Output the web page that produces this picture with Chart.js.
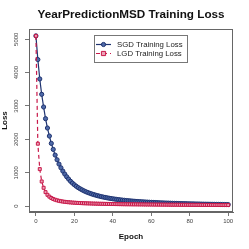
<!DOCTYPE html>
<html>
<head>
<meta charset="utf-8">
<script src="https://cdn.jsdelivr.net/npm/chart.js@4.4.0/dist/chart.umd.min.js"></script>
<style>
  html, body { margin: 0; padding: 0; background: #fff; }
  #wrap { width: 249px; height: 249px; }
</style>
</head>
<body>
<div id="wrap"><canvas id="lossChart" width="249" height="249"></canvas></div>
<script>
// Epochs 0..100
const epochs = Array.from({ length: 101 }, (_, i) => i);

// Training loss
const sgdLoss = [
    5100, 4390, 3810, 3350, 2970, 2620, 2340, 2100, 1880, 1700,
    1530, 1390, 1260, 1150, 1050, 960, 880, 810, 745, 690,
    640, 595, 555, 520, 488, 458, 432, 408, 386, 366,
    348, 331, 315, 300, 286, 273, 261, 250, 239, 229,
    220, 211, 203, 195, 188, 181, 175, 169, 163, 158,
    153, 148, 143, 139, 135, 131, 127, 123, 120, 117,
    114, 111, 108, 105, 102, 99, 97, 94, 92, 90,
    88, 86, 84, 82, 80, 78, 76, 74, 73, 71,
    70, 68, 67, 65, 64, 63, 61, 60, 59, 58,
    57, 56, 55, 54, 53, 52, 51, 50, 49, 48,
    47
];
const lgdLoss = [
    5100, 1870, 1110, 740, 550, 420, 340, 285, 245, 215,
    192, 175, 160, 148, 138, 130, 123, 117, 112, 107,
    103, 99, 96, 93, 90, 87, 85, 83, 81, 79,
    77, 75, 74, 72, 71, 70, 68, 67, 66, 65,
    64, 63, 62, 61, 60, 59, 58, 57, 57, 56,
    55, 54, 54, 53, 52, 52, 51, 50, 50, 49,
    49, 48, 47, 47, 46, 46, 45, 45, 44, 44,
    43, 43, 42, 42, 42, 41, 41, 40, 40, 40,
    39, 39, 39, 38, 38, 38, 37, 37, 37, 36,
    36, 36, 36, 35, 35, 35, 35, 34, 34, 34,
    34
];

const seriesLabels = ['SGD Training Loss', 'LGD Training Loss'];
const xTicks = [0, 20, 40, 60, 80, 100];
const yTicks = [0, 1000, 2000, 3000, 4000, 5000];

Chart.defaults.font.family = "'Liberation Sans', Arial, sans-serif";
Chart.defaults.color = '#444';

// R-style box around the plot region
const plotBox = {
    id: 'plotBox',
    afterDatasetsDraw(chart) {
        const { ctx, chartArea: a } = chart;
        ctx.save();
        ctx.strokeStyle = '#666';
        ctx.lineWidth = 1;
        ctx.strokeRect(Math.round(a.left) + 0.5, Math.round(a.top) + 0.5,
            Math.round(a.right - a.left) - 1, Math.round(a.bottom - a.top) - 1);
        ctx.restore();
    }
};

// Boxed legend inside the plot, like base R legend()
const boxLegend = {
    id: 'boxLegend',
    afterDraw(chart) {
        const ctx = chart.ctx;
        const x0 = 94, y0 = 35, w = 93, h = 27;
        ctx.save();
        ctx.fillStyle = '#fff';
        ctx.fillRect(x0, y0, w, h);
        ctx.strokeStyle = '#777';
        ctx.lineWidth = 1;
        ctx.strokeRect(x0 + 0.5, y0 + 0.5, w, h);
        ctx.font = "7.8px 'Liberation Sans', Arial, sans-serif";
        ctx.textBaseline = 'middle';
        chart.data.datasets.forEach((ds, i) => {
            const y = y0 + 9.5 + i * 9;
            ctx.strokeStyle = ds.borderColor;
            ctx.lineWidth = ds.borderWidth;
            ctx.setLineDash(ds.borderDash || []);
            ctx.beginPath();
            ctx.moveTo(x0 + 2, y);
            ctx.lineTo(x0 + 17, y);
            ctx.stroke();
            ctx.setLineDash([]);
            ctx.fillStyle = ds.pointBackgroundColor;
            ctx.strokeStyle = ds.pointBorderColor;
            ctx.lineWidth = 1;
            const cx = x0 + 9.5, r = ds.pointRadius;
            ctx.beginPath();
            if (ds.pointStyle === 'rect') {
                ctx.rect(cx - r, y - r, 2 * r, 2 * r);
            } else {
                ctx.arc(cx, y, r, 0, Math.PI * 2);
            }
            ctx.fill();
            ctx.stroke();
            ctx.fillStyle = '#222';
            ctx.fillText(ds.label, x0 + 23, y);
        });
        ctx.restore();
    }
};

const ctx = document.getElementById('lossChart').getContext('2d');
new Chart(ctx, {
    type: 'line',
    data: {
        datasets: [
            {
                label: seriesLabels[0],
                data: epochs.map((e, i) => ({ x: e, y: sgdLoss[i] })),
                borderColor: '#1f3370',
                borderWidth: 1.2,
                pointStyle: 'circle',
                pointRadius: 2.1,
                pointBackgroundColor: '#4f6aa8',
                pointBorderColor: '#1f3370',
                pointBorderWidth: 1,
                tension: 0,
                order: 2
            },
            {
                label: seriesLabels[1],
                data: epochs.map((e, i) => ({ x: e, y: lgdLoss[i] })),
                borderColor: '#c8194a',
                borderWidth: 1.2,
                borderDash: [4, 3],
                pointStyle: 'rect',
                pointRadius: 2.1,
                pointBackgroundColor: '#eba3b7',
                pointBorderColor: '#c8194a',
                pointBorderWidth: 1,
                tension: 0,
                order: 1
            }
        ]
    },
    options: {
        responsive: false,
        animation: false,
        devicePixelRatio: 1,
        layout: { padding: { left: 0, top: 0, right: 16, bottom: 0 } },
        plugins: {
            legend: { display: false },
            tooltip: { enabled: false },
            title: {
                display: true,
                fullSize: false,
                text: 'YearPredictionMSD Training Loss',
                color: '#111',
                font: { size: 11.7, weight: 'bold' },
                padding: { top: 8, bottom: 7 }
            }
        },
        scales: {
            x: {
                type: 'linear',
                min: -3.6,
                max: 102.5,
                afterBuildTicks: (scale) => { scale.ticks = xTicks.map(v => ({ value: v })); },
                afterFit: (scale) => { scale.height = 37; },
                grid: { display: true, drawOnChartArea: false, drawTicks: true, tickLength: 4, color: '#777' },
                border: { display: true, color: '#666' },
                ticks: {
                    font: { size: 6 }, padding: 2, color: '#444', maxRotation: 0,
                    callback: (v) => String(v)
                },
                title: {
                    display: true,
                    text: 'Epoch',
                    color: '#111',
                    font: { size: 8, weight: 'bold' },
                    padding: { top: 0, bottom: 7.5 }
                }
            },
            y: {
                min: -175,
                max: 5305,
                afterBuildTicks: (scale) => { scale.ticks = yTicks.map(v => ({ value: v })); },
                afterFit: (scale) => { scale.width = 29; },
                grid: { display: true, drawOnChartArea: false, drawTicks: true, tickLength: 4, color: '#777' },
                border: { display: true, color: '#666' },
                ticks: {
                    font: { size: 6 },
                    padding: 2,
                    color: '#444',
                    minRotation: 90,
                    maxRotation: 90,
                    crossAlign: 'center',
                    callback: (v) => String(v)
                },
                title: {
                    display: true,
                    text: 'Loss',
                    color: '#111',
                    font: { size: 8, weight: 'bold' },
                    padding: { top: 0, bottom: 0 }
                }
            }
        }
    },
    plugins: [plotBox, boxLegend]
});
</script>
</body>
</html>
